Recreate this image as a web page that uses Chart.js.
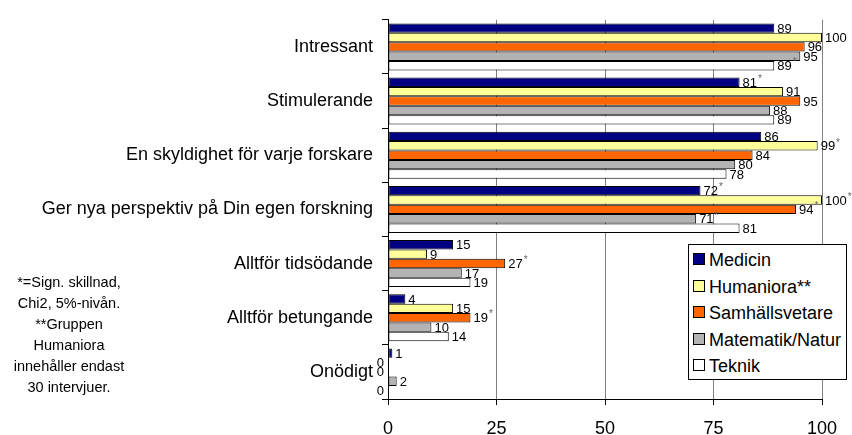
<!DOCTYPE html>
<html>
<head>
<meta charset="utf-8">
<script src="https://cdn.jsdelivr.net/npm/chart.js@4"></script>
<style>
  html,body{margin:0;padding:0;background:#fff;}
  #wrap{position:relative;width:852px;height:435px;font-family:"Liberation Sans",Arial,sans-serif;}
  #note{position:absolute;left:0;top:272px;width:138px;text-align:center;font-size:14.5px;line-height:21px;color:#000;}
  #legend{position:absolute;left:688px;top:244px;width:159px;height:136px;border:1px solid #000;background:#fff;box-sizing:border-box;}
  #legend div{position:absolute;left:4px;font-size:18px;line-height:20px;white-space:nowrap;}
  #legend span{display:inline-block;width:10px;height:10px;border:1px solid #000;margin-right:4px;vertical-align:1px;}
</style>
</head>
<body>
<div id="wrap">
  <canvas id="c" width="852" height="435"></canvas>
  <div id="note">*=Sign. skillnad,<br>Chi2, 5%-nivån.<br>**Gruppen<br>Humaniora<br>innehåller endast<br>30 intervjuer.</div>
  <div id="legend"></div>
</div>
<script>
const categories = ["Intressant","Stimulerande","En skyldighet för varje forskare","Ger nya perspektiv på Din egen forskning","Alltför tidsödande","Alltför betungande","Onödigt"];
const seriesNames = ["Medicin","Humaniora**","Samhällsvetare","Matematik/Natur","Teknik"];
const medicin   = [89, 81, 86, 72, 15, 4, 1];
const humaniora = [100, 91, 99, 100, 9, 15, 0];
const samhall   = [96, 95, 84, 94, 27, 19, 0];
const matematik = [95, 88, 80, 71, 17, 10, 2];
const teknik    = [89, 89, 78, 81, 19, 14, 0];
// 1 = significant difference (*)
const medicinSig   = [0,1,0,1,0,0,0];
const humanioraSig = [0,0,1,1,0,0,0];
const samhallSig   = [0,0,0,1,1,1,0];
const matematikSig = [0,0,0,1,0,0,0];
const teknikSig    = [1,0,0,0,0,0,0];
const xTicks = [0,25,50,75,100];

const colors = ["#000080","#FFFF99","#FF6600","#B3B3B3","#FFFFFF"];
const values = [medicin, humaniora, samhall, matematik, teknik];
const sigs = [medicinSig, humanioraSig, samhallSig, matematikSig, teknikSig];
const FONT = "'Liberation Sans', Arial, sans-serif";

const valueLabels = {
  id:"valueLabels",
  afterDatasetsDraw(chart){
    const ctx = chart.ctx;
    const x0 = chart.scales.x.getPixelForValue(0);
    ctx.save();
    ctx.textBaseline = "middle";
    chart.data.datasets.forEach((ds, di) => {
      chart.getDatasetMeta(di).data.forEach((el, i) => {
        const v = ds.data[i];
        ctx.fillStyle = "#000";
        ctx.font = "13px " + FONT;
        if (v === 0) {
          ctx.textAlign = "right";
          ctx.fillText("0", x0 - 4, el.y + 1);
          return;
        }
        ctx.textAlign = "left";
        const tx = el.x + 3;
        ctx.fillText(String(v), tx, el.y + 1);
        if (sigs[di][i]) {
          const w = ctx.measureText(String(v)).width;
          ctx.font = "10px " + FONT;
          ctx.fillStyle = "#666";
          ctx.fillText("*", tx + w + 1, el.y - 3);
        }
      });
    });
    ctx.restore();
  }
};

const chart = new Chart(document.getElementById("c"), {
  type:"bar",
  data:{
    labels:categories,
    datasets:seriesNames.map((n, i) => ({
      label:n,
      data:values[i],
      backgroundColor:colors[i],
      borderColor:"#000",
      borderWidth:c => c.raw === 0 ? 0 : 1,
      borderSkipped:false,
      barPercentage:1,
      categoryPercentage:0.868
    }))
  },
  options:{
    indexAxis:"y",
    responsive:false,
    animation:false,
    layout:{ padding:{ top:12, right:30, left:0, bottom:0 } },
    plugins:{ legend:{ display:false }, tooltip:{ enabled:false } },
    scales:{
      x:{
        min:0, max:100,
        afterBuildTicks:s => { s.ticks = xTicks.map(v => ({ value:v })); },
        afterFit:s => { s.height = 36; },
        ticks:{ color:"#000", font:{ family:FONT, size:18 }, padding:13 },
        grid:{ color:"#808080", tickColor:"#000", tickLength:6, lineWidth:1 },
        border:{ color:"#000", width:1 }
      },
      y:{
        afterFit:s => { s.width = 388; },
        ticks:{ color:"#000", font:{ family:FONT, size:18 }, padding:9 },
        grid:{ drawOnChartArea:false, color:"#000", tickLength:6 },
        border:{ color:"#000", width:1 }
      }
    }
  },
  plugins:[valueLabels]
});

// legend box built from the datasets
const leg = document.getElementById("legend");
chart.data.datasets.forEach((ds, i) => {
  const d = document.createElement("div");
  d.style.top = (5 + i * 26.6) + "px";
  d.innerHTML = '<span style="background:' + ds.backgroundColor + '"></span>' + ds.label;
  leg.appendChild(d);
});
</script>
</body>
</html>
